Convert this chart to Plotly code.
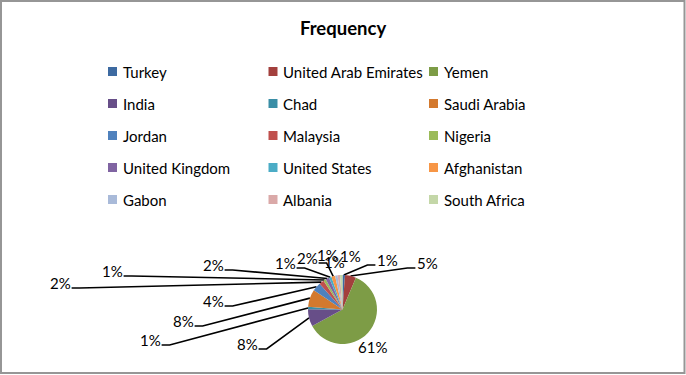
import math
import plotly.graph_objects as go

# ---------------- data ----------------
countries = ["Turkey", "United Arab Emirates", "Yemen", "India", "Chad",
             "Saudi Arabia", "Jordan", "Malaysia", "Nigeria", "United Kingdom",
             "United States", "Afghanistan", "Gabon", "Albania", "South Africa"]
frequency = [2, 9, 105, 14, 2, 14, 7, 4, 2, 3, 2, 3, 2, 2, 2]
colors = ["#3D6AA1", "#A3403D", "#7D9C46", "#674E88", "#3A8EA6", "#D3792E",
          "#4F81BD", "#C0504D", "#9BBB59", "#8064A2", "#4BACC6", "#F79646",
          "#A9BAD9", "#DAA9A8", "#C4D7A8"]
chart_title = "Frequency"

# ---------------- layout constants (pixels) ----------------
W, H = 686, 375
CX, CY, R = 342.5, 309.5, 34.5
FONT = "Lato, Carlito, Calibri, sans-serif"
# data-label positions (text centres), one per slice, Excel-style placement
label_pos = [(387, 260), (427, 263), (372, 347), (247, 344), (150, 340),
             (183, 321), (213, 301), (60, 283), (112, 271), (213, 265),
             (285, 263), (307, 258), (327, 255), (334, 262), (350, 256)]
LEG_X = [112.5, 273, 433.5]      # swatch centres per column
LEG_Y0, LEG_DY = 71.5, 32        # first row centre, row spacing
SW = 9                           # swatch size

fig = go.Figure()

# pie
fig.add_trace(go.Pie(
    labels=countries, values=frequency, sort=False, direction="clockwise",
    rotation=0, marker=dict(colors=colors, line=dict(width=0)),
    textinfo="none", showlegend=False,
    domain=dict(x=[(CX - R) / W, (CX + R) / W],
                y=[1 - (CY + R) / H, 1 - (CY - R) / H]),
))

total = sum(frequency)
annotations = []
shapes = []
lx_all, ly_all = [], []
cum = 0
for i, v in enumerate(frequency):
    mid = (cum + v / 2) / total * 2 * math.pi
    cum += v
    ax = CX + R * math.sin(mid)
    ay = CY - R * math.cos(mid)
    lx, ly = label_pos[i]
    txt = f"{round(v / total * 100)}%"
    annotations.append(dict(x=lx, y=ly, xref="x", yref="y", text=txt,
                            showarrow=False, xanchor="center", yanchor="middle",
                            font=dict(family=FONT, size=15, color="#000000")))
    dist = math.hypot(ax - lx, ay - ly)
    if dist < 25:
        continue
    hw = len(txt) * 4.8
    dx = ax - lx
    if abs(dx) < 22:
        pts = [(lx, ly + 9), (ax, ay)]
    elif dx > 0:
        pts = [(lx + hw + 2, ly + 5), (lx + hw + 10, ly + 5), (ax, ay)]
    else:
        pts = [(lx - hw - 2, ly + 5), (lx - hw - 10, ly + 5), (ax, ay)]
    for (x, y) in pts:
        lx_all.append(x)
        ly_all.append(y)
    lx_all.append(None)
    ly_all.append(None)

fig.add_trace(go.Scatter(x=lx_all, y=ly_all, mode="lines",
                         line=dict(color="#000000", width=1.6),
                         hoverinfo="skip", showlegend=False))

# manual legend (3 columns)
for i, name in enumerate(countries):
    col, row = i % 3, i // 3
    sx = LEG_X[col]
    sy = LEG_Y0 + row * LEG_DY
    shapes.append(dict(type="rect", xref="x", yref="y",
                       x0=sx - SW / 2, x1=sx + SW / 2, y0=sy - SW / 2, y1=sy + SW / 2,
                       fillcolor=colors[i], line=dict(width=0)))
    annotations.append(dict(x=sx + 8, y=sy, xref="x", yref="y", text=name,
                            showarrow=False, xanchor="left", yanchor="middle",
                            font=dict(family=FONT, size=15, color="#000000")))

# title
annotations.append(dict(x=W / 2, y=28, xref="x", yref="y",
                        text=f"<b>{chart_title}</b>", showarrow=False,
                        xanchor="center", yanchor="middle",
                        font=dict(family=FONT, size=18.5, color="#000000")))

# chart border
shapes.append(dict(type="rect", xref="x", yref="y", x0=1, x1=684.5, y0=1, y1=373,
                   line=dict(color="#969696", width=2), fillcolor="rgba(0,0,0,0)"))

fig.update_layout(
    width=W, height=H, margin=dict(l=0, r=0, t=0, b=0),
    paper_bgcolor="white", plot_bgcolor="white",
    xaxis=dict(range=[0, W], visible=False, fixedrange=True),
    yaxis=dict(range=[H, 0], visible=False, fixedrange=True),
    annotations=annotations, shapes=shapes,
    showlegend=False,
)

fig.write_html("out.html",
               config={"displayModeBar": False},
               post_script="document.body.style.margin='0';"
                           "document.body.style.overflow='hidden';")
